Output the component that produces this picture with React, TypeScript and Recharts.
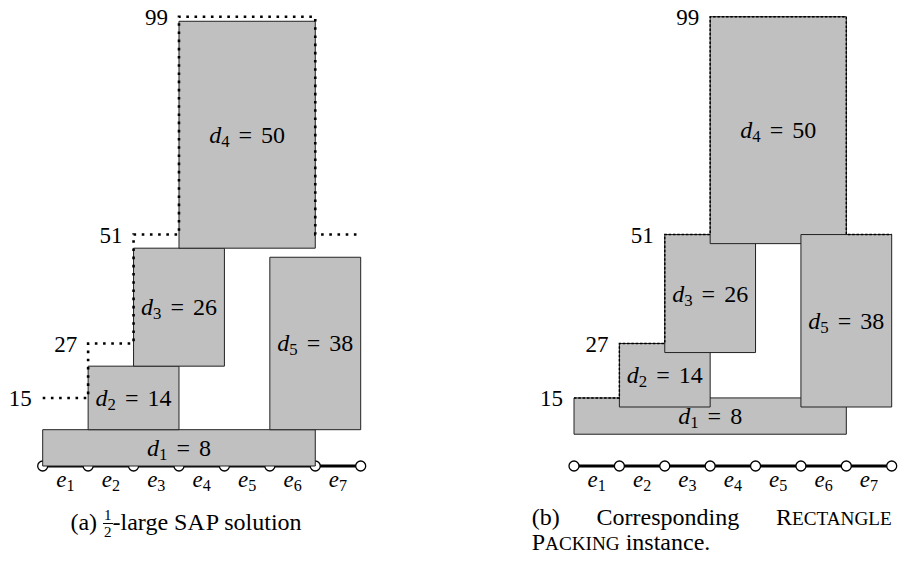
import React from "react";
import { ComposedChart, Line, ReferenceArea, Scatter, XAxis, YAxis } from "recharts";

// path nodes 0..7, edges e1..e7 between them
const NODES = [0, 1, 2, 3, 4, 5, 6, 7];
const EDGE_NAMES = ["1", "2", "3", "4", "5", "6", "7"];

// demands d1..d5: span over the path and demand size
const TASK_IDS = ["1", "2", "3", "4", "5"];
const TASK_FROM = [0, 1, 2, 3, 5];
const TASK_TO = [6, 3, 4, 6, 7];
const DEMANDS = [8, 14, 26, 50, 38];
const SAP_BOTTOM = [0, 8, 22, 48, 8];
const PACK_BOTTOM = [7, 13, 25, 49, 13];

// dotted skyline and its height labels
const SKY_X = [0, 1, 1, 2, 2, 3, 3, 6, 6, 7];
const SKY_Y = [15, 15, 27, 27, 51, 51, 99, 99, 51, 51];
const LEVEL_X = [0, 1, 2, 3];
const LEVELS = [15, 27, 51, 99];

const FONT = '"Liberation Serif"';
const H = 565;
const MARGIN_TOP = 12.2;
const MARGIN_BOTTOM = 99;

const nodeData = NODES.map((x) => ({ x, y: 0 }));
const edgeData = EDGE_NAMES.map((name, i) => ({ x: i + 0.5, y: 0, name }));
const skyData = SKY_X.map((x, i) => ({ x, y: SKY_Y[i] }));
const levelData = LEVEL_X.map((x, i) => ({ x, y: LEVELS[i] }));

function buildRects(bottoms: number[]) {
  return TASK_IDS.map((id, i) => ({
    id,
    demand: DEMANDS[i],
    x1: TASK_FROM[i],
    x2: TASK_TO[i],
    y1: bottoms[i],
    y2: bottoms[i] + DEMANDS[i],
  }));
}

function MathText({
  x,
  y,
  base,
  sub,
  value,
  size = 24,
}: {
  x: number;
  y: number;
  base: string;
  sub: string;
  value?: number;
  size?: number;
}) {
  return (
    <text x={x} y={y} textAnchor="middle" fontFamily={FONT} fontSize={size} fill="#000">
      <tspan fontStyle="italic">{base}</tspan>
      <tspan fontSize={size * 0.7} dy={4}>
        {sub}
      </tspan>
      {value !== undefined && (
        <>
          <tspan dy={-4} dx={9}>
            =
          </tspan>
          <tspan dx={9}>{value}</tspan>
        </>
      )}
    </text>
  );
}

function RectLabel(props: any) {
  const vb = props.viewBox || {};
  return (
    <MathText
      x={vb.x + vb.width / 2}
      y={vb.y + vb.height / 2 + 8}
      base="d"
      sub={props.id}
      value={props.demand}
    />
  );
}

function EdgeMark(props: any) {
  return <MathText x={props.cx} y={props.cy + 21} base="e" sub={props.payload.name} size={23} />;
}

function LevelMark(props: any) {
  return (
    <text
      x={props.cx - 11}
      y={props.cy + 8.5}
      textAnchor="end"
      fontFamily={FONT}
      fontSize={23}
      fill="#000"
    >
      {props.payload.y}
    </text>
  );
}

function Panel({
  left,
  width,
  ml,
  mr,
  bottoms,
  dotWidth,
  dash,
}: {
  left: number;
  width: number;
  ml: number;
  mr: number;
  bottoms: number[];
  dotWidth: number;
  dash: string;
}) {
  const rects = buildRects(bottoms);
  const margin = { top: MARGIN_TOP, bottom: MARGIN_BOTTOM, left: ml, right: mr };
  const axes = [
    <XAxis key="x" type="number" dataKey="x" domain={[0, 7]} hide />,
    <YAxis key="y" type="number" dataKey="y" domain={[0, 100]} hide />,
  ];
  return (
    <>
      <div style={{ position: "absolute", left, top: 0 }}>
        <ComposedChart width={width} height={H} margin={margin}>
          {axes}
          <Line
            data={nodeData}
            dataKey="y"
            stroke="#000"
            strokeWidth={3}
            dot={{ r: 5, fill: "#fff", stroke: "#000", strokeWidth: 1.3 }}
            isAnimationActive={false}
          />
          <Scatter data={edgeData} dataKey="y" shape={EdgeMark} isAnimationActive={false} />
        </ComposedChart>
      </div>
      <div style={{ position: "absolute", left, top: 0 }}>
        <ComposedChart width={width} height={H} margin={margin}>
          {axes}
          {rects.map((r) => (
            <ReferenceArea
              key={r.id}
              x1={r.x1}
              x2={r.x2}
              y1={r.y1}
              y2={r.y2}
              fill="#c0c0c0"
              fillOpacity={1}
              stroke="#222"
              strokeWidth={1}
              label={<RectLabel id={r.id} demand={r.demand} />}
            />
          ))}
          <Line
            data={skyData}
            dataKey="y"
            stroke="#000"
            strokeWidth={dotWidth}
            strokeDasharray={dash}
            dot={false}
            isAnimationActive={false}
          />
          <Scatter data={levelData} dataKey="y" shape={LevelMark} isAnimationActive={false} />
        </ComposedChart>
      </div>
    </>
  );
}

const captionStyle: React.CSSProperties = {
  position: "absolute",
  fontFamily: FONT,
  fontSize: 24,
  lineHeight: "25px",
  color: "#000",
  whiteSpace: "nowrap",
};

const smallCaps: React.CSSProperties = { fontSize: "0.8em" };

export default function App() {
  return (
    <div
      style={{
        position: "absolute",
        left: 0,
        top: 0,
        width: 907,
        height: 565,
        background: "#fff",
        overflow: "hidden",
        fontFamily: FONT,
      }}
    >
      <Panel left={0} width={420} ml={42.7} mr={59.3} bottoms={SAP_BOTTOM} dotWidth={2.6} dash="2.6 5.6" />
      <Panel left={480} width={427} ml={94} mr={15.3} bottoms={PACK_BOTTOM} dotWidth={1.4} dash="2.5 1.8" />

      <div style={{ ...captionStyle, left: 0, width: 372, top: 507, textAlign: "center" }}>
        (a){" "}
        <span
          style={{
            display: "inline-flex",
            flexDirection: "column",
            alignItems: "center",
            fontSize: 15,
            lineHeight: "16px",
            verticalAlign: "10px",
          }}
        >
          <span>1</span>
          <span style={{ borderTop: "1px solid #000", padding: "0 1px" }}>2</span>
        </span>
        -large S<span style={{ letterSpacing: 1 }}>A</span>P solution
      </div>

      <div
        style={{
          ...captionStyle,
          left: 531.7,
          width: 360,
          top: 505,
          display: "flex",
          justifyContent: "space-between",
        }}
      >
        <span>(b)</span>
        <span>Corresponding</span>
        <span>
          R<span style={smallCaps}>ECTANGLE</span>
        </span>
      </div>
      <div style={{ ...captionStyle, left: 531.7, top: 530 }}>
        P<span style={smallCaps}>ACKING</span> instance.
      </div>
    </div>
  );
}
